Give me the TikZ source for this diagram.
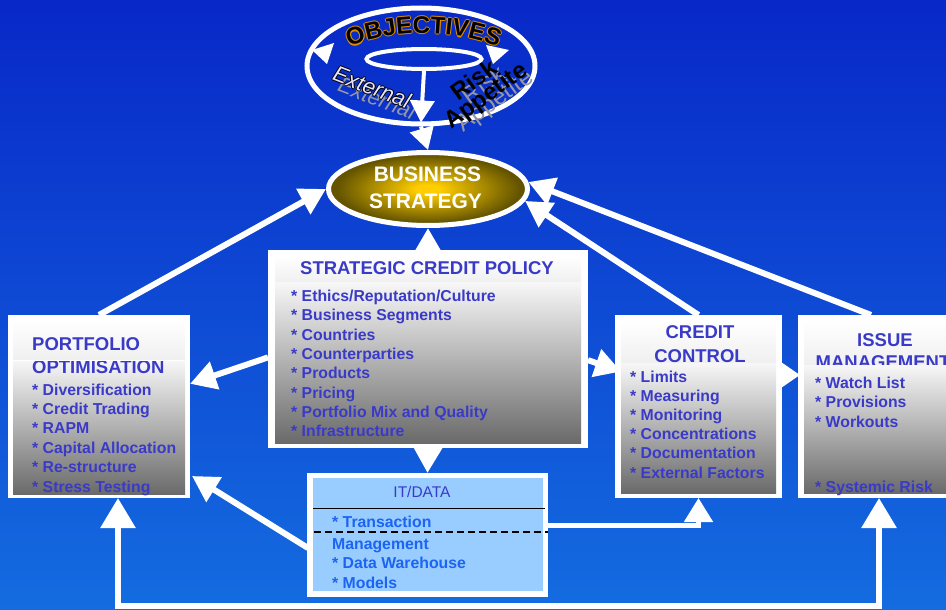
\documentclass[tikz,border=0pt]{standalone}
\usepackage{fontspec}
\setmainfont{Liberation Sans}
\usetikzlibrary{arrows.meta,calc,shapes.geometric,decorations.text}

\definecolor{bgtop}{RGB}{8,40,200}
\definecolor{bgbot}{RGB}{20,108,224}
\definecolor{itemblue}{RGB}{58,58,200}
\definecolor{itblue}{RGB}{28,100,242}
\definecolor{itfill}{RGB}{153,204,255}
\definecolor{goldin}{RGB}{255,205,0}
\definecolor{goldout}{RGB}{100,84,0}
\definecolor{panelgray}{RGB}{106,106,106}
\definecolor{wordorange}{RGB}{220,140,0}
\definecolor{lilac}{RGB}{228,228,255}
\definecolor{shadowgray}{RGB}{150,150,165}

% the path box spans the central 50bp of a radial shading
\pgfdeclareradialshading{goldglow}{\pgfpoint{0bp}{0bp}}{color(0bp)=(goldin); color(3bp)=(goldin); color(23bp)=(goldout); color(50bp)=(goldout)}

\tikzset{
  wire/.style={draw=white, line width=6pt, -{Triangle[width=28pt,length=26pt]}},
  smallwire/.style={draw=white, line width=4pt, -{Triangle[width=24pt,length=22pt]}},
  loopwire/.style={draw=white, line width=6pt, {Triangle[width=34pt,length=30pt]}-{Triangle[width=34pt,length=30pt]}},
  frame/.style={fill=white, draw=none, inner sep=0pt, outer sep=0pt},
  head/.style={font=\bfseries\fontsize{18.5}{22}\selectfont, text=itemblue, inner sep=0pt, anchor=base},
  item/.style={font=\bfseries\fontsize{15.8}{19}\selectfont, text=itemblue, anchor=base west, inner sep=0pt},
  ititem/.style={item, text=itblue},
  headpanel/.style={top color=white, bottom color=white!94!black},
  bodypanel/.style={top color=white!97!black, bottom color=panelgray},
  wordart/.style={inner sep=0pt},
}

\begin{document}
\begin{tikzpicture}[x=1pt,y=-1pt]
\clip (0,0) rectangle (946,610);
\shade[top color=bgtop, bottom color=bgbot] (0,0) rectangle (946,610);

% ---------- objectives ring ----------
\node[ellipse, draw=white, line width=5pt, minimum width=228pt, minimum height=116pt] (obj) at (421,66) {};
\node[ellipse, draw=white, line width=4pt, minimum width=115pt, minimum height=20pt] (objin) at (424,59) {};
% arrowheads running round the ring
\fill[white] (312,50) -- (334,43) -- (327,64) -- cycle;
\fill[white] (509,50) -- (486,45) -- (493,64) -- cycle;

% ring title, orange rim under black letters
\foreach \dx/\dy in {-1.1/0,1.1/0,0/-1.1,0/1.1}{
  \path[decorate, decoration={text along path, text align=center, text color=wordorange,
      text={|\bfseries\fontsize{24}{24}\selectfont|OBJECTIVES}}]
    (345+\dx,49+\dy) .. controls (392+\dx,28+\dy) and (455+\dx,28+\dy) .. (502+\dx,49+\dy);
}
\path[decorate, decoration={text along path, text align=center, text color=black,
    text={|\bfseries\fontsize{24}{24}\selectfont|OBJECTIVES}}]
  (345,49) .. controls (392,28) and (455,28) .. (502,49);

% "External" with grey shadow and black outline
\node[wordart, rotate=-21, font=\itshape\fontsize{22}{22}\selectfont, text=shadowgray] (extsh) at (377,98) {External};
\foreach \dx/\dy [count=\k] in {-1/0,1/0,0/-1,0/1}{
  \node[wordart, rotate=-21, font=\itshape\fontsize{22}{22}\selectfont, text=black] (extol\k) at (372+\dx,87+\dy) {External};
}
\node[wordart, rotate=-21, font=\itshape\fontsize{22}{22}\selectfont, text=lilac] (ext) at (372,87) {External};

% "Risk Appetite" with grey shadow
\node[wordart, rotate=36, align=center, font=\fontsize{24}{19}\selectfont, text=shadowgray] (risksh) at (490,94) {Risk\\Appetite};
\node[wordart, rotate=36, align=center, font=\bfseries\fontsize{24}{19}\selectfont, text=black] (risk) at (481,89) {Risk\\Appetite};

% ---------- business strategy ----------
\node[ellipse, draw=white, line width=5pt, shade, shading=goldglow, minimum width=199pt, minimum height=73pt] (strat) at (428,189) {};
\node[font=\bfseries\fontsize{21}{21}\selectfont, text=white, anchor=base, inner sep=0pt] (stratA) at (427.5,181) {BUSINESS};
\node[font=\bfseries\fontsize{21}{21}\selectfont, text=white, anchor=base, inner sep=0pt] (stratB) at (425.5,208) {STRATEGY};

% ---------- box frames (placed first so connectors can name them) ----------
\node[frame, minimum width=320pt, minimum height=198pt] (pol) at (428,349) {};
\node[frame, minimum width=182pt, minimum height=183pt] (port) at (99,406.5) {};
\node[frame, minimum width=167pt, minimum height=183pt] (cc) at (698.5,406.5) {};
\node[frame, minimum width=174pt, minimum height=183pt] (im) at (885,406.5) {};
\node[frame, minimum width=241pt, minimum height=124pt] (it) at (427.5,535) {};
\coordinate (loopy) at (500,606);

% ---------- connectors ----------
\draw[smallwire] (objin.south) -- ($(obj.south)+(0,-4)$);
\draw[smallwire] (obj.south) -- (strat.north);
\draw[wire] (pol.north) -- (strat.south);
\draw[wire] (pol.south) -- (it.north);
\draw[wire] (port.north) -- (strat.180);
\draw[wire] (cc.north) -- (strat.-7);
\draw[wire] ($(im.north)+(-14,0)$) -- (strat.4);
\draw[wire] (pol.183) -- (port.14.5);
\draw[wire] (pol.-4) -- ($(cc.west)+(6,-35)$);
\draw[draw=white, line width=6pt, -{Triangle[width=26pt,length=20pt]}] ($(cc.east)+(-12,-31.5)$) -- ($(im.west)+(2,-31.5)$);
\draw[wire] ($(it.west)+(1,13)$) -- ($(port.south east)+(2,-22)$);
\draw[draw=white, line width=5pt, -{Triangle[width=28pt,length=24pt]}] ($(it.east)+(0,-10)$) -| (cc.south);
\draw[loopwire] ($(port.south)+(19,0)$) |- (loopy) -| ($(im.south)+(-6,0)$);

% ---------- box bodies (drawn over the connector ends) ----------
\node[frame, minimum width=320pt, minimum height=198pt] (polfr) at (pol) {};
\node[frame, minimum width=182pt, minimum height=183pt] (portfr) at (port) {};
\node[frame, minimum width=167pt, minimum height=183pt] (ccfr) at (cc) {};
\node[frame, minimum width=174pt, minimum height=183pt] (imfr) at (im) {};
\node[frame, minimum width=241pt, minimum height=124pt] (itfr) at (it) {};

% strategic credit policy
\shade[headpanel] ($(pol.north west)+(7,6)$) rectangle ($(pol.north east)+(-7,32)$);
\shade[bodypanel] ($(pol.north west)+(7,32)$) rectangle ($(pol.south east)+(-7,-5)$);
\node[head] (polh) at (427,274.5) {STRATEGIC CREDIT POLICY};
\foreach \t [count=\k] in {Ethics/Reputation/Culture, Business Segments, Countries, Counterparties, Products, Pricing, Portfolio Mix and Quality, Infrastructure}{
  \node[item] (pol\k) at (291,{301.5+19.3*(\k-1)}) {* \t};
}

% portfolio optimisation
\shade[headpanel] ($(port.north west)+(5,5)$) rectangle ($(port.north east)+(-5,45)$);
\shade[bodypanel] ($(port.north west)+(5,45)$) rectangle ($(port.south east)+(-5,-4)$);
\node[head, anchor=base west] (porth1) at (32,350) {PORTFOLIO};
\node[head, anchor=base west] (porth2) at (32,373.5) {OPTIMISATION};
\draw[white, line width=0.8pt] ($(port.north west)+(5,45)$) -- ($(port.north east)+(-5,45)$);
\foreach \t [count=\k] in {Diversification, Credit Trading, RAPM, Capital Allocation, Re-structure, Stress Testing}{
  \node[item] (port\k) at (32,{395+19.4*(\k-1)}) {* \t};
}

% credit control
\shade[headpanel] ($(cc.north west)+(6,5)$) rectangle ($(cc.north east)+(-6,48)$);
\shade[bodypanel] ($(cc.north west)+(6,48)$) rectangle ($(cc.south east)+(-6,-5)$);
\node[head] (cch1) at (700,338) {CREDIT};
\node[head] (cch2) at (700,362) {CONTROL};
\foreach \t [count=\k] in {Limits, Measuring, Monitoring, Concentrations, Documentation, External Factors}{
  \node[item] (cc\k) at (630,{382+19.2*(\k-1)}) {* \t};
}

% issue management (body panel covers the lower part of the title)
\shade[headpanel] ($(im.north west)+(6,5)$) rectangle ($(im.north east)+(-6,50)$);
\node[head] (imh1) at (885,346) {ISSUE};
\node[head] (imh2) at (883,368) {MANAGEMENT};
\shade[bodypanel] ($(im.north west)+(6,50)$) rectangle ($(im.south east)+(-6,-5)$);
\foreach \t [count=\k] in {Watch List, Provisions, Workouts}{
  \node[item] (im\k) at (815,{388+19.5*(\k-1)}) {* \t};
}
\node[item] (im4) at (815,492) {* Systemic Risk};

% IT / data
\fill[itfill] ($(it.north west)+(6,5)$) rectangle ($(it.south east)+(-5,-6)$);
\node[font=\fontsize{15.5}{19}\selectfont, text=itemblue, anchor=base, inner sep=0pt] (ith) at (422,497) {IT/DATA};
\draw[black, line width=1.8pt] ($(it.west)+(6,-26.5)$) -- ($(it.east)+(-3,-26.5)$);
\node[ititem] (it1) at (332,527) {* Transaction};
\draw[black, line width=1.8pt, dash pattern=on 7pt off 4pt] ($(it.west)+(7,-3)$) -- (it.east |- 0,532);
\node[ititem] (it2) at (332,549) {Management};
\node[ititem] (it3) at (332,568) {* Data Warehouse};
\node[ititem] (it4) at (332,588) {* Models};

\end{tikzpicture}
\end{document}
